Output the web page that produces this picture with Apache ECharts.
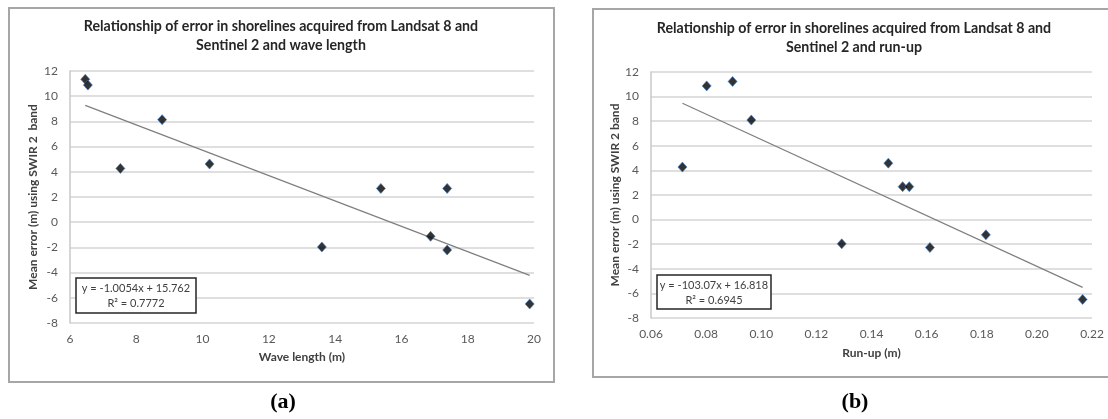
<!DOCTYPE html>
<html lang="en">
<head>
	<meta charset="UTF-8">
	<title>Shoreline error vs wave length and run-up</title>
	<script src="https://cdn.jsdelivr.net/npm/echarts@6/dist/echarts.min.js"></script>
	<style>
		html, body { margin: 0; padding: 0; background: #fff; }
		#charts { width: 1108px; height: 419px; }
	</style>
</head>
<body>
<div id="charts"></div>
<script>
	// (a) wave length vs mean error
	var waveLength = [6.46, 6.54, 7.52, 8.78, 10.21, 13.6, 15.38, 17.38, 16.88, 17.38, 19.87];
	var errorA = [11.34, 10.88, 4.27, 8.14, 4.62, -1.97, 2.68, 2.68, -1.12, -2.21, -6.49];
	// trendline ends as drawn (y = -1.0054x + 15.762)
	var trendA = [[6.46, 9.27], [19.87, -4.22]];

	// (b) run-up vs mean error
	var runUp = [0.0714, 0.0802, 0.0896, 0.0964, 0.1292, 0.1461, 0.1513, 0.1537, 0.1612, 0.1815, 0.2166];
	var errorB = [4.27, 10.87, 11.23, 8.09, -1.97, 4.59, 2.68, 2.68, -2.27, -1.24, -6.49];
	// trendline ends as drawn (y = -103.07x + 16.818)
	var trendB = [[0.0714, 9.46], [0.2166, -5.51]];

	var yTicks = { min: -8, max: 12, interval: 2 };
	var xTicksA = { min: 6, max: 20, interval: 2 };
	var xTicksB = { min: 0.06, max: 0.22, interval: 0.02 };

	function pairs(xs, ys) {
		var out = [];
		for (var i = 0; i < xs.length; i++) {
			out.push([xs[i], ys[i]]);
		}
		return out;
	}

	var font = 'Lato, "Open Sans", sans-serif';
	var tickLabel = { color: '#595959', fontSize: 12, fontFamily: font };
	var axisName = { color: '#404040', fontSize: 12, fontWeight: 'bold', fontFamily: font };
	var gridLine = { lineStyle: { color: '#d4d4d4', width: 1.5 } };

	function xAxisOf(idx, ticks, name, gap, fmt) {
		return {
			type: 'value',
			gridIndex: idx,
			min: ticks.min,
			max: ticks.max,
			interval: ticks.interval,
			name: name,
			nameLocation: 'middle',
			nameGap: gap,
			nameTextStyle: axisName,
			axisLine: { show: false },
			axisTick: { show: false },
			splitLine: { show: false },
			axisLabel: Object.assign({ margin: 10, formatter: fmt }, tickLabel)
		};
	}

	function yAxisOf(idx, name, gap) {
		return {
			type: 'value',
			gridIndex: idx,
			min: yTicks.min,
			max: yTicks.max,
			interval: yTicks.interval,
			name: name,
			nameLocation: 'middle',
			nameGap: gap,
			nameTextStyle: axisName,
			axisLine: { show: true, lineStyle: { color: '#c8c8c8', width: 1.5 } },
			axisTick: { show: false },
			splitLine: gridLine,
			axisLabel: Object.assign({ margin: 12 }, tickLabel)
		};
	}

	var pointStyle = {
		type: 'scatter',
		symbol: 'diamond',
		symbolSize: [9, 10],
		itemStyle: { color: '#000', borderColor: '#3b7fd0', borderWidth: 0.8 },
		z: 5
	};

	var trendStyle = {
		type: 'line',
		symbol: 'none',
		lineStyle: { color: '#7f7f7f', width: 1.2 },
		silent: true,
		z: 4
	};

	var titleFont = 'bold 14.2px ' + font;
	var eqFont = '11px ' + font;

	var chart = echarts.init(document.getElementById('charts'));
	chart.setOption({
		animation: false,
		backgroundColor: '#fff',
		grid: [
			{ left: 70, top: 71, width: 464, height: 252 },
			{ left: 651, top: 72, width: 441, height: 246 }
		],
		xAxis: [
			xAxisOf(0, xTicksA, 'Wave length (m)', 28),
			xAxisOf(1, xTicksB, 'Run-up (m)', 29, function (v) { return v.toFixed(2); })
		],
		yAxis: [
			yAxisOf(0, 'Mean error (m) using SWIR 2  band', 31),
			yAxisOf(1, 'Mean error (m) using SWIR 2 band', 28)
		],
		series: [
			Object.assign({ xAxisIndex: 0, yAxisIndex: 0, data: trendA }, trendStyle),
			Object.assign({ xAxisIndex: 0, yAxisIndex: 0, data: pairs(waveLength, errorA) }, pointStyle),
			Object.assign({ xAxisIndex: 1, yAxisIndex: 1, data: trendB }, trendStyle),
			Object.assign({ xAxisIndex: 1, yAxisIndex: 1, data: pairs(runUp, errorB) }, pointStyle)
		],
		graphic: [
			// chart frames
			{ type: 'rect', shape: { x: 9, y: 8, width: 545, height: 374 }, style: { fill: null, stroke: '#a6a6a6', lineWidth: 2 }, z: 0 },
			{ type: 'rect', shape: { x: 593, y: 9, width: 530, height: 368 }, style: { fill: null, stroke: '#a6a6a6', lineWidth: 2 }, z: 0 },
			// titles
			{ type: 'text', style: { x: 281, y: 17, text: 'Relationship of error in shorelines acquired from Landsat 8 and\nSentinel 2 and wave length', textAlign: 'center', textVerticalAlign: 'top', lineHeight: 19, font: titleFont, fill: '#262626' } },
			{ type: 'text', style: { x: 854, y: 19, text: 'Relationship of error in shorelines acquired from Landsat 8 and\nSentinel 2 and run-up', textAlign: 'center', textVerticalAlign: 'top', lineHeight: 19, font: titleFont, fill: '#262626' } },
			// trendline equation boxes
			{ type: 'rect', shape: { x: 76, y: 278, width: 120, height: 35 }, style: { fill: '#fff', stroke: '#262626', lineWidth: 1.5 }, z: 10 },
			{ type: 'text', style: { x: 136, y: 281, text: 'y = -1.0054x + 15.762\nR\u00b2 = 0.7772', textAlign: 'center', textVerticalAlign: 'top', lineHeight: 15, font: eqFont, fill: '#404040' }, z: 11 },
			{ type: 'rect', shape: { x: 657, y: 275, width: 114, height: 34 }, style: { fill: '#fff', stroke: '#262626', lineWidth: 1.5 }, z: 10 },
			{ type: 'text', style: { x: 714, y: 278, text: 'y = -103.07x + 16.818\nR\u00b2 = 0.6945', textAlign: 'center', textVerticalAlign: 'top', lineHeight: 15, font: eqFont, fill: '#404040' }, z: 11 },
			// panel captions
			{ type: 'text', style: { x: 283, y: 402, text: '(a)', textAlign: 'center', textVerticalAlign: 'middle', font: 'bold 22px "Liberation Serif", serif', fill: '#000' } },
			{ type: 'text', style: { x: 855, y: 402, text: '(b)', textAlign: 'center', textVerticalAlign: 'middle', font: 'bold 22px "Liberation Serif", serif', fill: '#000' } }
		]
	});

	window.onresize = function () {
		chart.resize();
	};
</script>
</body>
</html>
